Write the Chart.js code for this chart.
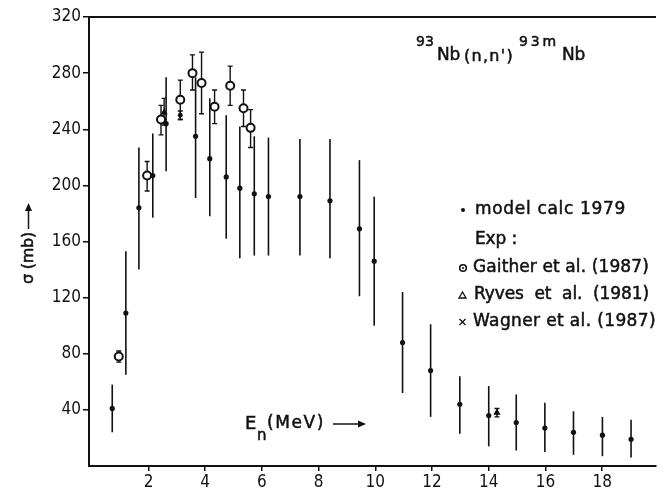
<!DOCTYPE html>
<html>
<head>
<meta charset="utf-8">
<script src="https://cdn.jsdelivr.net/npm/chart.js@4/dist/chart.umd.min.js"></script>
<style>
  html, body { margin: 0; padding: 0; background: #fff; }
  #c { display: block; }
</style>
</head>
<body>
<canvas id="c" width="662" height="493"></canvas>
<script>
// 93Nb(n,n')93mNb excitation function: neutron energy (MeV) vs cross section (mb)

// model calculation 1979
const modelE     = [0.72, 1.20, 1.66, 2.15, 2.62, 3.66, 4.16, 4.74, 5.22, 5.73, 6.23, 7.34, 8.40, 9.44, 9.96, 10.96, 11.95, 12.98, 14.00, 14.97, 15.98, 16.99, 18.01, 19.02];
const modelSigma = [41, 109, 184, 207, 244, 235, 219, 206, 198, 194, 192, 192, 189, 169, 146, 88, 68, 44, 36, 31, 27, 24, 22, 19];
const modelLow   = [24, 65, 140, 177, 210, 191, 178, 162, 148, 150, 150, 150, 148, 121, 100, 52, 35, 23, 14, 11, 10, 8, 7, 6];
const modelHigh  = [58, 153, 227, 237, 277, 277, 262, 250, 242, 235, 234, 233, 233, 218, 192, 124, 101, 64, 57, 51, 45, 39, 35, 33];

// Gaither et al. (1987)
const gaitherE     = [0.95, 1.95, 2.44, 3.12, 3.55, 3.87, 4.33, 4.88, 5.35, 5.60];
const gaitherSigma = [78, 207, 247, 261, 280, 273, 256, 271, 255, 241];
const gaitherLow   = [74, 196, 236, 247, 268, 251, 244, 257, 242, 227];
const gaitherHigh  = [82, 217, 257, 275, 293, 295, 268, 285, 268, 254];

// Ryves et al. (1981)
const ryvesE     = [2.55, 14.29];
const ryvesSigma = [252, 38];
const ryvesLow   = [243, 35];
const ryvesHigh  = [262, 41];

// Wagner et al. (1987)
const wagnerE     = [3.12];
const wagnerSigma = [250];
const wagnerLow   = [247];
const wagnerHigh  = [253];

// axis ticks
const energyTicks = [2, 4, 6, 8, 10, 12, 14, 16, 18];
const sigmaTicks  = [40, 80, 120, 160, 200, 240, 280, 320];

const TICK_FONT = '"DejaVu Sans Condensed", "DejaVu Sans", sans-serif';
const TEXT_FONT = '"DejaVu Sans", sans-serif';

function points(xs, ys) { return xs.map((x, i) => ({ x: x, y: ys[i] })); }

// vertical error bars, drawn through the chart scales
const errorBars = {
  id: 'errorBars',
  beforeDatasetsDraw(chart) {
    const ctx = chart.ctx;
    const xs = chart.scales.x, ys = chart.scales.y;
    ctx.save();
    ctx.strokeStyle = '#111';
    chart.data.datasets.forEach((ds) => {
      ctx.lineWidth = ds.errWidth || 1.5;
      ds.data.forEach((p, i) => {
        const px = xs.getPixelForValue(p.x);
        const y1 = ys.getPixelForValue(ds.errLow[i]);
        const y2 = ys.getPixelForValue(ds.errHigh[i]);
        ctx.beginPath();
        ctx.moveTo(px, y1); ctx.lineTo(px, y2);
        if (ds.capHalf) {
          ctx.moveTo(px - ds.capHalf, y1); ctx.lineTo(px + ds.capHalf, y1);
          ctx.moveTo(px - ds.capHalf, y2); ctx.lineTo(px + ds.capHalf, y2);
        }
        ctx.stroke();
      });
    });
    ctx.restore();
  }
};

// writes a string so that it spans a given width, with slightly heavier strokes
function fitText(ctx, s, x, y, width) {
  ctx.letterSpacing = '0px';
  const w = ctx.measureText(s).width;
  const ls = width ? (width - w) / s.length : 0;
  ctx.letterSpacing = ls.toFixed(2) + 'px';
  ctx.fillText(s, x, y);
  ctx.lineWidth = 0.5;
  ctx.strokeText(s, x, y);
  ctx.letterSpacing = '0px';
}

// frame top line, reaction label, axis titles and key
const annotations = {
  id: 'annotations',
  afterDraw(chart) {
    const ctx = chart.ctx;
    const a = chart.chartArea;
    ctx.save();
    ctx.strokeStyle = '#111';
    ctx.fillStyle = '#111';
    ctx.lineWidth = 2;
    ctx.beginPath();
    ctx.moveTo(a.left - 1, a.top); ctx.lineTo(a.right, a.top);
    ctx.stroke();

    ctx.textBaseline = 'middle';
    ctx.textAlign = 'left';

    // reaction
    ctx.font = '14px ' + TEXT_FONT; fitText(ctx, '93', 416, 42, 18);
    ctx.font = '17px ' + TEXT_FONT; fitText(ctx, 'Nb', 437, 56, 23);
    ctx.font = '16px ' + TEXT_FONT; fitText(ctx, "(n,n')", 464, 57, 50);
    ctx.font = '14px ' + TEXT_FONT; fitText(ctx, '93m', 519, 42, 40);
    ctx.font = '17px ' + TEXT_FONT; fitText(ctx, 'Nb', 562, 56, 23);

    // key
    ctx.font = '17px ' + TEXT_FONT;
    fitText(ctx, 'model calc 1979', 475, 210, 151);
    fitText(ctx, 'Exp :', 475, 240, 42);
    fitText(ctx, 'Gaither et al. (1987)', 473, 268, 176);
    fitText(ctx, 'Ryves  et  al.  (1981)', 474, 295, 175);
    fitText(ctx, 'Wagner et al. (1987)', 473, 322, 183);

    ctx.beginPath(); ctx.arc(463, 210, 2, 0, Math.PI * 2); ctx.fill();
    ctx.lineWidth = 1.6;
    ctx.beginPath(); ctx.arc(463, 268, 3.3, 0, Math.PI * 2); ctx.stroke();
    ctx.beginPath(); ctx.arc(463, 268, 1, 0, Math.PI * 2); ctx.fill();
    ctx.lineWidth = 1.3;
    ctx.beginPath(); ctx.moveTo(459, 298); ctx.lineTo(466, 298); ctx.lineTo(462.5, 292); ctx.closePath(); ctx.stroke();
    ctx.beginPath();
    ctx.moveTo(459.5, 319); ctx.lineTo(465.5, 325); ctx.moveTo(465.5, 319); ctx.lineTo(459.5, 325);
    ctx.stroke();

    // x title
    ctx.font = '18px ' + TEXT_FONT; fitText(ctx, 'E', 245, 424, 12);
    ctx.font = '15px ' + TEXT_FONT; fitText(ctx, 'n', 257, 436, 9);
    ctx.font = '17px ' + TEXT_FONT; fitText(ctx, '(MeV)', 267, 424, 58);
    ctx.lineWidth = 1.5;
    ctx.beginPath(); ctx.moveTo(333, 424); ctx.lineTo(360, 424); ctx.stroke();
    ctx.beginPath(); ctx.moveTo(366, 424); ctx.lineTo(358, 420.5); ctx.lineTo(358, 427.5); ctx.closePath(); ctx.fill();

    // y title
    ctx.save();
    ctx.translate(29, 258);
    ctx.rotate(-Math.PI / 2);
    ctx.textAlign = 'center';
    ctx.font = '16px ' + TEXT_FONT;
    fitText(ctx, 'σ (mb)', 0, 0, 52);
    ctx.restore();
    ctx.lineWidth = 1.5;
    ctx.beginPath(); ctx.moveTo(28.5, 229); ctx.lineTo(28.5, 210); ctx.stroke();
    ctx.beginPath(); ctx.moveTo(28.5, 203); ctx.lineTo(25, 211); ctx.lineTo(32, 211); ctx.closePath(); ctx.fill();
    ctx.restore();
  }
};

new Chart(document.getElementById('c'), {
  type: 'scatter',
  data: {
    datasets: [
      {
        label: 'model calc 1979',
        data: points(modelE, modelSigma),
        errLow: modelLow, errHigh: modelHigh, errWidth: 1.6, capHalf: 0,
        pointStyle: 'circle', pointRadius: 2.6,
        backgroundColor: '#111', borderColor: '#111', borderWidth: 0
      },
      {
        label: 'Gaither et al. (1987)',
        data: points(gaitherE, gaitherSigma),
        errLow: gaitherLow, errHigh: gaitherHigh, errWidth: 1.4, capHalf: 2.5,
        pointStyle: 'circle', pointRadius: 4,
        backgroundColor: '#fff', borderColor: '#111', borderWidth: 2
      },
      {
        label: 'Ryves et al. (1981)',
        data: points(ryvesE, ryvesSigma),
        errLow: ryvesLow, errHigh: ryvesHigh, errWidth: 1.4, capHalf: 2.5,
        pointStyle: 'triangle', pointRadius: 3,
        backgroundColor: '#111', borderColor: '#111', borderWidth: 1.2
      },
      {
        label: 'Wagner et al. (1987)',
        data: points(wagnerE, wagnerSigma),
        errLow: wagnerLow, errHigh: wagnerHigh, errWidth: 1.4, capHalf: 2.5,
        pointStyle: 'circle', pointRadius: 2.4,
        backgroundColor: '#111', borderColor: '#111', borderWidth: 0
      }
    ]
  },
  options: {
    responsive: false,
    animation: false,
    events: [],
    layout: { padding: { top: 17, right: 0, left: 0, bottom: 0 } },
    plugins: { legend: { display: false }, tooltip: { enabled: false } },
    scales: {
      x: {
        type: 'linear', min: -0.1, max: 19.9,
        afterBuildTicks(s) { s.ticks = energyTicks.map(v => ({ value: v })); },
        afterFit(s) { s.height = 27; },
        border: { display: true, color: '#111', width: 2 },
        grid: { drawOnChartArea: false, drawTicks: true, tickLength: 5, color: '#111', lineWidth: 1.5 },
        ticks: { color: '#111', padding: 1, maxRotation: 0, autoSkip: false, font: { family: TICK_FONT, size: 17 } }
      },
      y: {
        type: 'linear', min: 0, max: 320,
        afterBuildTicks(s) { s.ticks = sigmaTicks.map(v => ({ value: v })); },
        afterFit(s) { s.width = 89; },
        border: { display: true, color: '#111', width: 2 },
        grid: { drawOnChartArea: false, drawTicks: true, tickLength: 6, color: '#111', lineWidth: 1.5 },
        ticks: { color: '#111', padding: 2, autoSkip: false, font: { family: TICK_FONT, size: 17 } }
      }
    }
  },
  plugins: [errorBars, annotations]
});
</script>
</body>
</html>
